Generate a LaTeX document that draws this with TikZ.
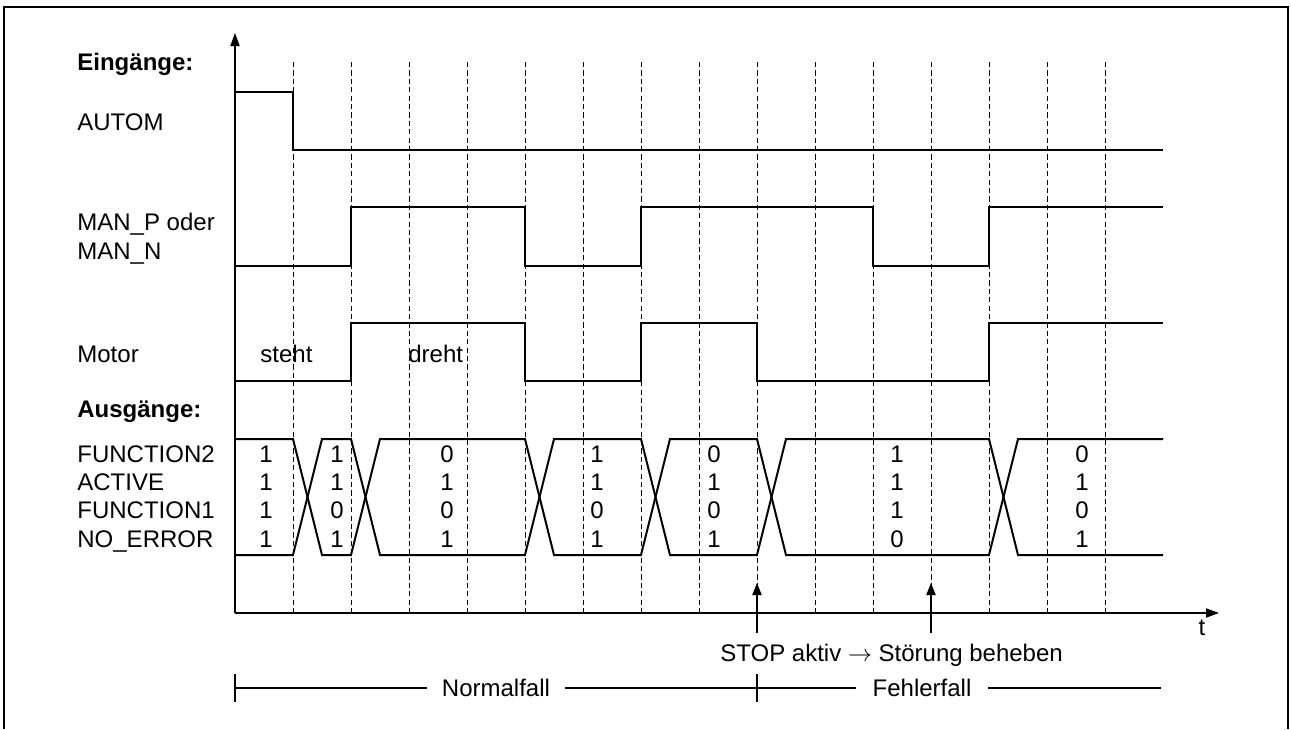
\documentclass[tikz,border=0pt]{standalone}
\usepackage{fontspec}
\setmainfont{Liberation Sans}
\usetikzlibrary{arrows.meta}

\begin{document}
\begin{tikzpicture}[
  x=0.5pt, y=-0.5pt,
  font=\fontsize{12}{14.4}\selectfont,
  frameLine/.style={line width=1.4pt},
  sigLine/.style={line width=1.1pt, line join=miter},
  busLine/.style={line width=1pt, line join=miter},
  gridLine/.style={line width=0.45pt, dash pattern=on 2.6pt off 1.6pt},
  axisArrow/.style={line width=0.6pt, -{Triangle[length=6.5pt, width=4.6pt]}},
  eventArrow/.style={line width=0.6pt, -{Triangle[length=6pt, width=4.6pt]}},
  phaseLine/.style={line width=0.6pt},
  sigLabel/.style={anchor=base west, inner sep=0pt},
  bitVal/.style={anchor=base, inner sep=0pt},
  phaseText/.style={anchor=center, inner xsep=7.5pt, inner ysep=0pt}
]
\useasboundingbox (0,0) rectangle (1291,729);

% Frame (open at the bottom)
\draw[frameLine] (4,729) -- (4,7) -- (1288,7) -- (1288,729);

% Time grid
\foreach \i in {1,...,15}
  \draw[gridLine] (235+58*\i,62) -- (235+58*\i,613);

% Axes
\draw[axisArrow] (235,613) -- (235,33);
\draw[axisArrow] (235,613) -- (1219,613);
\node[bitVal] (tLabel) at (1202,635) {t};

% Signal names
\node[sigLabel] (inHead) at (77,70) {\bfseries Eingänge:};
\node[sigLabel] (autom) at (77,130) {AUTOM};
\node[sigLabel] (manP) at (77,230) {MAN\_P oder};
\node[sigLabel] (manN) at (77,259) {MAN\_N};
\node[sigLabel] (motor) at (77,362) {Motor};
\node[sigLabel] (outHead) at (77,417) {\bfseries Ausgänge:};
\node[sigLabel] (fnTwo) at (77,462) {FUNCTION2};
\node[sigLabel] (active) at (77,490) {ACTIVE};
\node[sigLabel] (fnOne) at (77,518) {FUNCTION1};
\node[sigLabel] (noErr) at (77,547) {NO\_ERROR};

% Input waveforms
\draw[sigLine] (235,92) -- (293,92) -- (293,150) -- (1163,150);
\draw[sigLine] (235,266) -- (351,266) |- (525,207) |- (641,266) |- (873,207) |- (989,266) |- (1163,207);
\draw[sigLine] (235,381) -- (351,381) |- (525,323) |- (641,381) |- (757,323) |- (989,381) |- (1163,323);
\node[sigLabel] (steht) at (260,362) {steht};
\node[sigLabel] (dreht) at (408,362) {dreht};

% Output bus
\draw[busLine] (235,439) -- (293,439) -- (322,555) -- (351,555) -- (380,439) -- (525,439) -- (554,555)
  -- (641,555) -- (670,439) -- (757,439) -- (786,555) -- (989,555) -- (1018,439) -- (1163,439);
\draw[busLine] (235,555) -- (293,555) -- (322,439) -- (351,439) -- (380,555) -- (525,555) -- (554,439)
  -- (641,439) -- (670,555) -- (757,555) -- (786,439) -- (989,439) -- (1018,555) -- (1163,555);
\foreach \x/\a/\b/\c/\d in {266/1/1/1/1, 337/1/1/0/1, 447/0/1/0/1, 597/1/1/0/1, 714/0/1/0/1, 897/1/1/1/0, 1082/0/1/0/1} {
  \node[bitVal] at (\x,462) {\a};
  \node[bitVal] at (\x,490) {\b};
  \node[bitVal] at (\x,518) {\c};
  \node[bitVal] at (\x,547) {\d};
}

% Events
\node[sigLabel] (event) at (720,661) {STOP aktiv $\rightarrow$ Störung beheben};
\coordinate (stopFoot) at (757,633);
\coordinate (fixFoot) at (931,633);
\draw[eventArrow] (stopFoot) -- ++(0,-50);
\draw[eventArrow] (fixFoot) -- ++(0,-50);

% Phases
\node[phaseText] (normal) at (496,688) {Normalfall};
\node[phaseText, inner xsep=8pt] (fault) at (922,688) {Fehlerfall};
\draw[phaseLine] (235,674) -- (235,702);
\draw[phaseLine] (757,674) -- (757,702);
\draw[phaseLine] (235,688) -- (normal.west);
\draw[phaseLine] (normal.east) -- (fault.west);
\draw[phaseLine] (fault.east) -- (1161,688);

\end{tikzpicture}
\end{document}
